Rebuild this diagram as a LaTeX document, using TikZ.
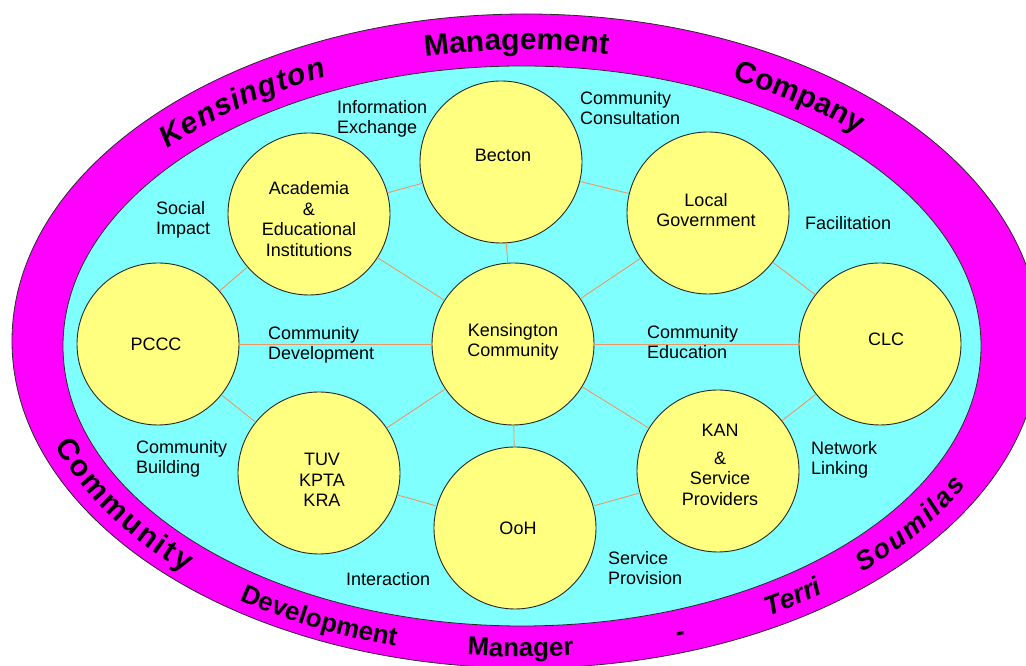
\documentclass[tikz,border=0pt]{standalone}
\usepackage{fontspec}
\setmainfont{Liberation Sans}
\usetikzlibrary{decorations.text}

\definecolor{bandmagenta}{HTML}{FF00FF}
\definecolor{innercyan}{HTML}{80FFFF}
\definecolor{discyellow}{HTML}{FFFF80}
\definecolor{linkorange}{RGB}{236,150,100}
\definecolor{rimgray}{RGB}{40,40,40}

% fonts for the lettering on the outer band
\newcommand\bandbold{\fontsize{30}{30}\selectfont\bfseries}
\newcommand\bandboldit{\fontsize{30}{30}\selectfont\bfseries\itshape}
\newcommand\bandsmall{\fontsize{26}{26}\selectfont\bfseries}
\newcommand\bandsmallit{\fontsize{27}{27}\selectfont\bfseries\itshape}

\tikzset{
  disc/.style={circle, draw=rimgray, line width=0.9pt, fill=discyellow,
               minimum size=162pt, inner sep=0pt},
  disctext/.style={align=center, font=\fontsize{18}{20.5}\selectfont, inner sep=0pt},
  role/.style={align=left, anchor=north west, font=\fontsize{18}{20}\selectfont, inner sep=0pt},
  link/.style={draw=linkorange, line width=0.9pt},
}

\begin{document}
\begin{tikzpicture}[x=1pt,y=1pt]
\useasboundingbox (0,0) rectangle (1026,666);
\clip (0,0) rectangle (1026,666);
\fill[white] (0,0) rectangle (1026,666);

% outer band and inner field
\draw[fill=bandmagenta, draw=rimgray, line width=0.8pt] (526,325) ellipse [x radius=514, y radius=327];
\draw[fill=innercyan, draw=rimgray, line width=0.8pt] (522,320) ellipse [x radius=459, y radius=280];

% lettering along the upper part of the band (clockwise)
\path[decorate, decoration={text along path, text align=left,
    text={|\bandboldit|K{\kern1.2pt}e{\kern1.2pt}n{\kern1.2pt}s{\kern1.2pt}i{\kern1.2pt}n{\kern1.2pt}g{\kern1.2pt}t{\kern1.2pt}o{\kern1.2pt}n}}]
  (524,323) ++(138.5:476 and 293) arc[start angle=138.5, end angle=95, x radius=476, y radius=293];
\path[decorate, decoration={text along path, text align=left, text={|\bandbold|Management}}]
  (524,323) ++(102:476 and 293) arc[start angle=102, end angle=65, x radius=476, y radius=293];
\path[decorate, decoration={text along path, text align=left, text={|\bandbold|Company}}]
  (524,323) ++(64:476 and 293) arc[start angle=64, end angle=25, x radius=476, y radius=293];

% lettering along the lower part of the band (counter-clockwise)
\path[decorate, decoration={text along path, text align=left,
    text={|\bandbold|C{\kern2.4pt}o{\kern2.4pt}m{\kern2.4pt}m{\kern2.4pt}u{\kern2.4pt}n{\kern2.4pt}i{\kern2.4pt}t{\kern2.4pt}y}}]
  (524,323) ++(199:496 and 314) arc[start angle=199, end angle=248, x radius=496, y radius=314];
\path[decorate, decoration={text along path, text align=left, text={|\bandsmall|Development}}]
  (524,323) ++(235:496 and 314) arc[start angle=235, end angle=270, x radius=496, y radius=314];
\path[decorate, decoration={text along path, text align=left, text={|\bandsmall|Manager}}]
  (524,323) ++(263.4:496 and 314) arc[start angle=263.4, end angle=290, x radius=496, y radius=314];
\path[decorate, decoration={text along path, text align=left, text={|\bandsmallit|-}}]
  (524,323) ++(288:496 and 314) arc[start angle=288, end angle=298, x radius=496, y radius=314];
\path[decorate, decoration={text along path, text align=left, text={|\bandsmallit|Terri}}]
  (524,323) ++(299.5:496 and 314) arc[start angle=299.5, end angle=325, x radius=496, y radius=314];
\path[decorate, decoration={text along path, text align=left,
    text={|\bandsmallit|S{\kern2.4pt}o{\kern2.4pt}u{\kern2.4pt}m{\kern2.4pt}i{\kern2.4pt}l{\kern2.4pt}a{\kern2.4pt}s}}]
  (524,323) ++(313:496 and 314) arc[start angle=313, end angle=359, x radius=496, y radius=314];

% discs
\node[disc] (becton) at (501,504) {};
\node[disc] (acad)   at (309,452) {};
\node[disc] (locgov) at (708,453) {};
\node[disc] (pccc)   at (158,322) {};
\node[disc] (kcomm)  at (513,322) {};
\node[disc] (clc)    at (880,322) {};
\node[disc] (tuv)    at (319,193) {};
\node[disc] (ooh)    at (515,138) {};
\node[disc] (kan)    at (718,195) {};

% links between the discs
\draw[link] (becton) -- (acad);
\draw[link] (becton) -- (locgov);
\draw[link] (becton) -- (kcomm);
\draw[link] (acad) -- (pccc);
\draw[link] (acad) -- (kcomm);
\draw[link] (locgov) -- (kcomm);
\draw[link] (locgov) -- (clc);
\draw[link] (pccc) -- (kcomm);
\draw[link] (kcomm) -- (clc);
\draw[link] (pccc) -- (tuv);
\draw[link] (tuv) -- (kcomm);
\draw[link] (tuv) -- (ooh);
\draw[link] (kcomm) -- (ooh);
\draw[link] (kcomm) -- (kan);
\draw[link] (kan) -- (ooh);
\draw[link] (kan) -- (clc);

% disc captions
\node[disctext] (bectonT) at (503,511) {Becton};
\node[disctext] (acadT)   at (309,447) {Academia\\\&\\Educational\\Institutions};
\node[disctext] (locgovT) at (706,456) {Local\\Government};
\node[disctext] (pcccT)   at (156,322) {PCCC};
\node[disctext] (kcommT)  at (513,324) {Kensington\\Community};
\node[disctext] (clcT)    at (886,327) {CLC};
\node[disctext] (tuvT)    at (322,186) {TUV\\KPTA\\KRA};
\node[disctext] (oohT)    at (518,138) {OoH};
\node[disctext] (kanT)    at (720,201) {KAN\\[7pt]\&\\Service\\Providers};

% roles written between the discs
\node[role] (infoEx)  at (337,566) {Information\\Exchange};
\node[role] (consult) at (580,575) {Community\\Consultation};
\node[role] (social)  at (156,465) {Social\\Impact};
\node[role] (facil)   at (805,450) {Facilitation};
\node[role] (cdev)    at (268,340) {Community\\Development};
\node[role] (cedu)    at (647,341) {Community\\Education};
\node[role] (cbuild)  at (136,226) {Community\\Building};
\node[role] (netlink) at (811,225) {Network\\Linking};
\node[role] (interact) at (346,94) {Interaction};
\node[role] (service) at (608,115) {Service\\Provision};
\end{tikzpicture}
\end{document}
